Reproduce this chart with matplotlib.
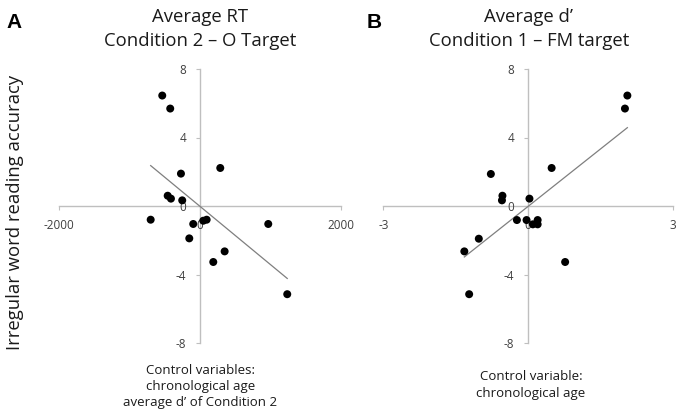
import numpy as np
import matplotlib
matplotlib.use("Agg")
import matplotlib.pyplot as plt

# ---- data ----
a_x = [-537, -424, -272, 285, -460, -414, -254, -701, -98, 44, 92, 965, -154, 347, 186, 1234]
a_y = [6.45, 5.69, 1.89, 2.22, 0.60, 0.43, 0.33, -0.80, -1.05, -0.86, -0.80, -1.05, -1.89, -2.65, -3.27, -5.15]

b_x = [2.06, 2.01, -0.77, 0.49, -0.53, -0.54, 0.03, -0.23, -0.03, 0.10, 0.20, 0.20, -1.02, -1.32, 0.77, -1.22]
b_y = [6.45, 5.69, 1.87, 2.22, 0.60, 0.33, 0.43, -0.82, -0.82, -1.07, -0.82, -1.07, -1.91, -2.65, -3.27, -5.15]

a_xticks = [-2000, 0, 2000]
b_xticks = [-3, 0, 3]
yticks = [-8, -4, 0, 4, 8]

a_title = ["Average RT", "Condition 2 \u2013 O Target"]
b_title = ["Average d\u2019", "Condition 1 \u2013 FM target"]
a_note = ["Control variables:", "chronological age", "average d\u2019 of Condition 2"]
b_note = ["Control variable:", "chronological age"]
ylabel = "Irregular word reading accuracy"

# ---- styling ----
plt.rcParams["font.family"] = ["Open Sans", "DejaVu Sans"]
plt.rcParams["axes.unicode_minus"] = False

W, H = 680, 413
fig = plt.figure(figsize=(W / 100, H / 100), dpi=100)


def rect(l, t, r, b):
    return [l / W, 1 - b / H, (r - l) / W, (b - t) / H]


AX_COL = "#bfbfbf"
TXT = "#1a1a1a"
TICK_TXT = "#404040"


def panel(pos, xs, ys, xlim, xticks):
    ax = fig.add_axes(pos)
    ax.set_xlim(*xlim)
    ax.set_ylim(-8, 8)
    for s in ("top", "right"):
        ax.spines[s].set_visible(False)
    ax.spines["left"].set_position(("data", 0))
    ax.spines["bottom"].set_position(("data", 0))
    for s in ("left", "bottom"):
        ax.spines[s].set_color(AX_COL)
        ax.spines[s].set_linewidth(1.0)
        ax.spines[s].set_zorder(1)
    ax.set_xticks(xticks)
    ax.set_yticks(yticks)
    ax.set_xticklabels([str(v) for v in xticks])
    ax.set_yticklabels([str(v) for v in yticks])
    ax.tick_params(axis="x", direction="out", length=2.9, width=0.8, color=AX_COL,
                   pad=6.3, labelsize=8.5, labelcolor=TICK_TXT)
    ax.tick_params(axis="y", direction="out", length=2.9, width=0.8, color=AX_COL,
                   pad=7.0, labelsize=8.5, labelcolor=TICK_TXT)
    ax.patch.set_alpha(0)
    ax.scatter(xs, ys, s=33, color="black", edgecolors="none", zorder=4)
    k, c = np.polyfit(xs, ys, 1)
    xl = np.array([min(xs), max(xs)])
    ax.plot(xl, k * xl + c, color="#7f7f7f", lw=0.9, zorder=3)
    return ax


axA = panel(rect(59, 69, 341.3, 343), a_x, a_y, (-2000, 2000), a_xticks)
axB = panel(rect(383.3, 69, 672.7, 343), b_x, b_y, (-3, 3), b_xticks)


def ftext(x, y, s, **kw):
    fig.text(x / W, 1 - y / H, s, **kw)


# panel letters
ftext(6.5, 28.3, "A", fontsize=15, fontweight="bold", family=["Liberation Sans", "DejaVu Sans"],
      ha="left", va="baseline", color="black")
ftext(366.5, 28.3, "B", fontsize=15, fontweight="bold", family=["Liberation Sans", "DejaVu Sans"],
      ha="left", va="baseline", color="black")

# titles
for i, line in enumerate(a_title):
    ftext(200.2, 21.7 + 24 * i, line, fontsize=13.3, ha="center", va="baseline", color=TXT)
for i, line in enumerate(b_title):
    ftext(529, 21.7 + 24 * i, line, fontsize=13.3, ha="center", va="baseline", color=TXT)

# notes
for i, line in enumerate(a_note):
    ftext(200.2, 374 + 16 * i, line, fontsize=9.5, ha="center", va="baseline", color=TXT)
for i, line in enumerate(b_note):
    ftext(531, 380 + 16.7 * i, line, fontsize=9.5, ha="center", va="baseline", color=TXT)

# y label
ftext(15, 212, ylabel, fontsize=13.3, rotation=90, ha="center", va="center", color=TXT)

fig.savefig("out.png", dpi=100)
